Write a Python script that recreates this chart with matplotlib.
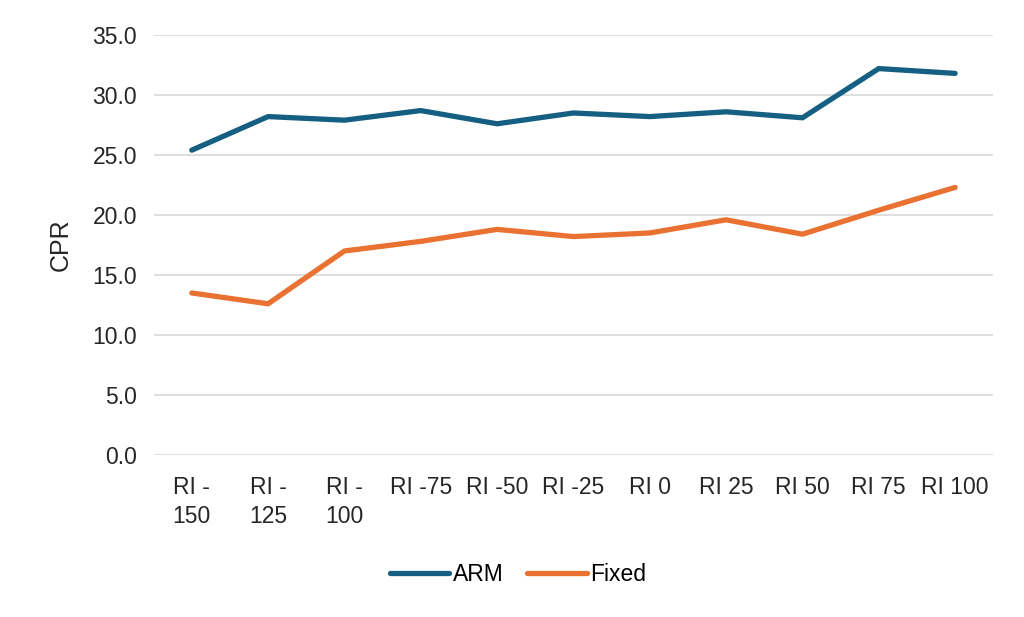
import matplotlib.pyplot as plt

# Data
categories = ["RI -\n150", "RI -\n125", "RI -\n100", "RI -75", "RI -50", "RI -25",
              "RI 0", "RI 25", "RI 50", "RI 75", "RI 100"]
arm = [25.4, 28.2, 27.9, 28.7, 27.6, 28.5, 28.2, 28.6, 28.1, 32.2, 31.8]
fixed = [13.5, 12.6, 17.0, 17.8, 18.8, 18.2, 18.5, 19.6, 18.4, 20.4, 22.3]
yticks = [0, 5, 10, 15, 20, 25, 30, 35]

plt.rcParams['font.family'] = ['Liberation Sans', 'DejaVu Sans']

fig = plt.figure(figsize=(10.24, 6.17), dpi=100)
ax = fig.add_axes([0.150, 0.2626, 0.820, 0.6807])

x = list(range(len(categories)))
ax.plot(x, arm, color="#156082", lw=3.8, label="ARM", solid_capstyle="round", solid_joinstyle="round")
ax.plot(x, fixed, color="#E97132", lw=3.8, label="Fixed", solid_capstyle="round", solid_joinstyle="round")

ax.set_xlim(-0.5, len(categories) - 0.5)
ax.set_ylim(0, 35)
ax.set_yticks(yticks)
ax.set_yticklabels([f"{v:.1f}" for v in yticks])
ax.set_xticks(x)
ax.set_xticklabels(categories, linespacing=1.35)
ax.tick_params(axis="both", length=0, labelsize=16.5, colors="#262626")
ax.tick_params(axis="y", pad=12)
ax.tick_params(axis="x", pad=15)

ax.grid(axis="y", color="#D9D9D9", lw=1.2)
ax.set_axisbelow(True)
for s in ax.spines.values():
    s.set_visible(False)

ax.set_ylabel("CPR", fontsize=18, color="#262626", labelpad=14)

# legend is centred on the figure, not on the plot area
ax.legend(loc="center", bbox_to_anchor=(0.434, -0.285), ncol=2, frameon=False,
          fontsize=16.5, handlelength=2.6, columnspacing=1.05, handletextpad=0.15)

fig.savefig("out.png", dpi=100)
